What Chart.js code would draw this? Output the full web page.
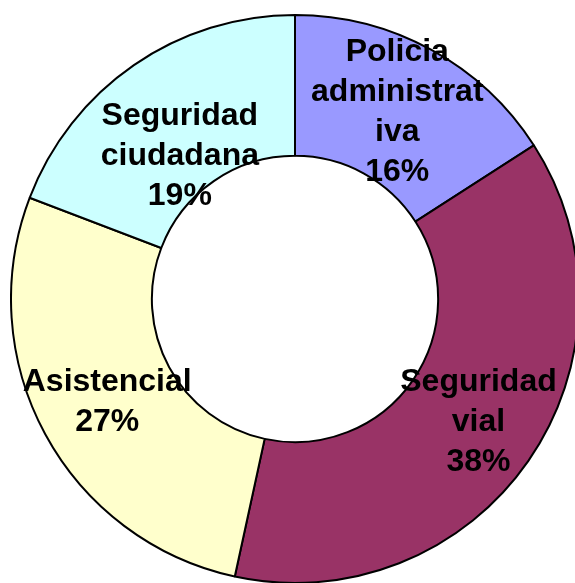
<!DOCTYPE html>
<html>
<head>
<meta charset="utf-8">
<script src="https://cdn.jsdelivr.net/npm/chart.js@4.4.1/dist/chart.umd.min.js"></script>
<style>
  html, body { margin: 0; padding: 0; background: #fff; overflow: hidden; }
  body { width: 575px; height: 583px; position: relative; }
  #pie { position: absolute; left: 10px; top: 14px; }
</style>
</head>
<body>
<canvas id="pie" width="570" height="570"></canvas>
<script>
/* global Chart */

// categories, in drawing order (clockwise from 12 o'clock)
let categories = ["Policia administrativa", "Seguridad vial", "Asistencial", "Seguridad ciudadana"];
// how the labels are wrapped in the picture
let labelLines = [
  ["Policia", "administrat", "iva"],
  ["Seguridad", "vial"],
  ["Asistencial"],
  ["Seguridad", "ciudadana"],
];
// share of each slice (percent)
let values = [15.9, 37.5, 27.4, 19.2];
let colors = ["#9999FF", "#993366", "#FFFFCC", "#CCFFFF"];

// draws the category name and percentage inside every slice
const sliceLabels = {
  id: "sliceLabels",
  afterDatasetsDraw(chart, args, opts) {
    const ctx = chart.ctx;
    const meta = chart.getDatasetMeta(0);
    const data = chart.data.datasets[0].data;
    const total = data.reduce((a, b) => a + b, 0);
    ctx.save();
    ctx.font = "bold 32px 'Liberation Sans', Arial, sans-serif";
    ctx.fillStyle = "#000";
    ctx.textAlign = "center";
    ctx.textBaseline = "middle";
    meta.data.forEach((arc, i) => {
      const p = arc.getProps(["x", "y", "startAngle", "endAngle", "innerRadius", "outerRadius"], true);
      const mid = (p.startAngle + p.endAngle) / 2;
      const r = (p.innerRadius + p.outerRadius) / 2;
      const nudge = opts.nudge[i] || [0, 0];
      const cx = p.x + Math.cos(mid) * r + nudge[0];
      const cy = p.y + Math.sin(mid) * r + nudge[1];
      const lines = labelLines[i].concat([Math.round(data[i] / total * 100) + "%"]);
      lines.forEach((t, k) => {
        ctx.fillText(t, cx, cy + (k - (lines.length - 1) / 2) * opts.lineHeight);
      });
    });
    ctx.restore();
  },
};

var ctx = document.getElementById("pie").getContext("2d");
var pieChart = new Chart(ctx, {
  type: "doughnut",
  data: {
    labels: categories,
    datasets: [
      {
        data: values,
        backgroundColor: colors,
        borderColor: "#000",
        borderWidth: 2,
      },
    ],
  },
  options: {
    responsive: false,
    animation: false,
    cutout: "50.4%",
    layout: { padding: 0 },
    events: [],
    plugins: {
      legend: { display: false },
      tooltip: { enabled: false },
      sliceLabels: {
        lineHeight: 40,
        nudge: [[0, 1], [8, 1], [0, 1], [6, 33]],
      },
    },
  },
  plugins: [sliceLabels],
});
</script>
</body>
</html>
